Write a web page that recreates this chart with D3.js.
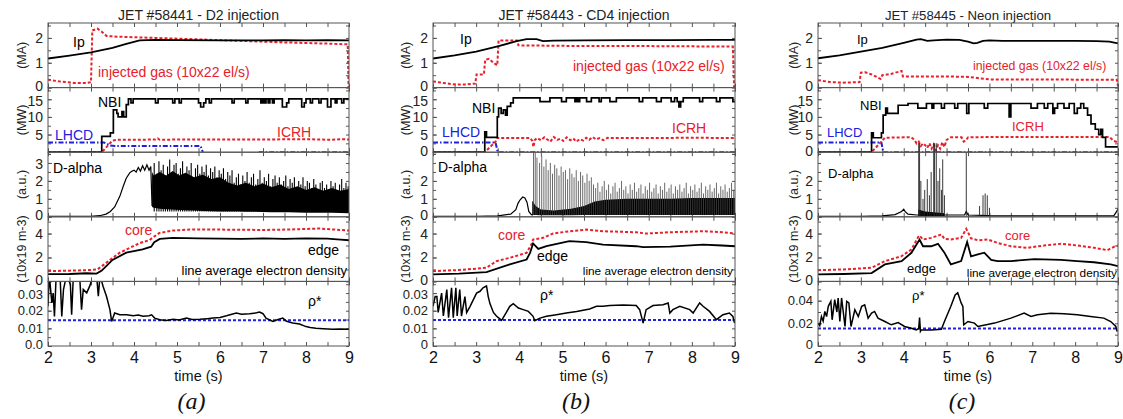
<!DOCTYPE html>
<html><head><meta charset="utf-8">
<script src="https://cdn.jsdelivr.net/npm/d3@7"></script>
<style>
body{margin:0;background:#fff;}
svg{display:block;font-family:Arial,"Liberation Sans",Helvetica,sans-serif;}
</style></head><body>
<svg id="chart" width="1123" height="419"></svg>
<script>
// ---------------- DATA ----------------
const timeTicks = [2,3,4,5,6,7,8,9];
const shotTitles = ["JET #58441 - D2 injection","JET #58443 - CD4 injection","JET #58445 - Neon injection"];
const panelLetters = ["(a)","(b)","(c)"];
const unitLabels = ["(MA)","(MW)","(a.u.)","(10x19 m-3)",""];
const maTicks = [0,1,2];
const mwTicksA = [5,10,15];
const mwTicksBC = [0,5,10,15];
const auTicksA = [0,1,2,3];
const auTicksBC = [0,1,2];
const neTicks = [0,2,4];
const rhoTicksAB = [0,0.01,0.02,0.03];
const rhoTicksC = [0,0.02,0.04];
const rhoLabelsA = ["0.0","0.01","0.02","0.03"];
const rhoLabelsB = ["0","0.01","0.02","0.03"];
const rhoLabelsC = ["0","0.02","0.04"];

// ---- shot (a) #58441 ----
const ipA = [[2,1.17],[2.5,1.29],[3,1.42],[3.5,1.6],[3.8,1.75],[4.13,1.9],[4.5,1.92],[5,1.91],[6,1.9],[7,1.9],[7.5,1.91],[8,1.9],[8.5,1.91],[9,1.9]];
const gasA = [[2,0.32],[2.3,0.24],[2.6,0.19],[2.9,0.19],[3.0,0.22],[3.03,2.3],[3.15,2.37],[3.25,2.25],[3.36,2.08],[3.6,2.05],[4.5,2.0],[5.5,1.94],[6.5,1.88],[7.5,1.82],[8.5,1.77],[8.97,1.74],[8.99,0]];
const nbiA = [[2,0],[3.25,4.5],[3.45,5.5],[3.52,12],[3.6,11],[3.63,10],[3.72,11.5],[3.76,10],[3.82,13.5],[3.87,15.1],[3.93,14],[3.98,15.1],[4.5,14],[4.56,15.1],[4.9,14],[4.95,15.1],[5.05,14],[5.1,15.1],[5.5,14],[5.55,12.8],[5.62,14],[5.67,15.1],[5.75,14],[5.8,15.1],[6.28,14],[6.33,15.1],[6.6,14],[6.65,15.1],[6.95,14],[6.99,15.1],[7.03,14],[7.07,15.1],[7.12,14],[7.16,15.1],[7.22,14],[7.26,15.1],[7.45,12.8],[7.55,14],[7.6,15.1],[7.9,12.8],[7.96,14],[8.0,15.1],[8.1,14],[8.15,15.1],[8.3,14],[8.35,15.1],[8.5,12.8],[8.58,15.1],[8.68,14],[8.72,15.1],[8.83,14],[8.88,15.1],[9,15.1]];
const icrhA = [[2,0],[3.25,0],[3.5,3.3],[3.6,3.5],[4.0,3.5],[4.5,3.6],[4.55,3.9],[4.6,3.5],[5,3.6],[6,3.6],[7,3.6],[8,3.7],[8.6,3.5],[8.8,3.7],[9,3.6]];
const lhcdA = [[2,2.75],[3.3,2.75],[3.45,1.9],[3.55,1.75],[5.55,1.75],[5.6,0],[5.65,null],[6.9,0],[9,0]];
const daBaseA = [[2,0.02],[2.5,0.02],[3.0,0.03],[3.2,0.06],[3.35,0.15],[3.45,0.3],[3.55,0.55],[3.67,1.14],[3.75,1.7],[3.82,2.15],[3.9,2.45],[3.94,2.52],[4.0,2.6],[4.05,2.5],[4.1,2.75],[4.15,2.55],[4.2,2.85],[4.25,2.6],[4.3,2.9],[4.35,2.6],[4.39,2.8],[4.42,0.6]];
const daBandA = [[4.42,0.55,2.5],[4.46,0.5,2.3],[4.6,0.45,2.5],[4.75,0.42,2.3],[4.9,0.4,2.55],[5.05,0.38,2.3],[5.2,0.36,2.45],[5.4,0.35,2.2],[5.6,0.32,2.35],[5.8,0.31,2.1],[6.0,0.3,2.2],[6.2,0.3,1.9],[6.4,0.29,1.75],[6.6,0.28,1.9],[6.8,0.28,1.7],[7.0,0.27,1.85],[7.2,0.26,1.65],[7.4,0.26,1.8],[7.6,0.25,1.55],[7.8,0.24,1.7],[8.0,0.23,1.5],[8.2,0.23,1.65],[8.4,0.22,1.45],[8.6,0.22,1.6],[8.8,0.21,1.45],[9.0,0.2,1.55]];
const daSpikesA = [[4.47,3.0],[4.53,2.4],[4.58,3.1],[4.63,2.6],[4.68,2.9],[4.73,2.2],[4.78,2.8],[4.83,3.2],[4.88,2.5],[4.93,2.9],[4.98,3.0],[5.03,2.4],[5.08,2.7],[5.13,3.1],[5.18,2.3],[5.23,2.8],[5.28,2.6],[5.33,3.0],[5.38,2.2],[5.43,2.7],[5.48,2.9],[5.53,2.4],[5.58,2.8],[5.63,2.5],[5.68,2.9],[5.73,2.3],[5.78,2.7],[5.83,2.5],[5.88,2.8],[5.93,2.2],[5.98,2.6],[6.03,2.4],[6.08,2.7],[6.13,2.1],[6.18,2.5],[6.23,2.3],[6.28,2.6],[6.33,1.9],[6.38,2.2],[6.43,2.4],[6.48,1.8],[6.53,2.3],[6.58,2.0],[6.63,2.5],[6.68,1.9],[6.73,2.2],[6.78,2.4],[6.83,1.8],[6.88,2.1],[6.93,2.6],[6.98,1.9],[7.03,2.2],[7.08,2.0],[7.13,2.4],[7.18,1.7],[7.23,2.1],[7.28,2.3],[7.33,1.9],[7.38,2.2],[7.43,1.8],[7.48,2.0],[7.53,2.3],[7.58,1.7],[7.63,2.1],[7.68,1.9],[7.73,2.2],[7.78,1.6],[7.83,2.0],[7.88,1.8],[7.93,2.2],[7.98,1.7],[8.03,2.0],[8.08,1.9],[8.13,1.6],[8.18,2.1],[8.23,1.8],[8.28,1.5],[8.33,1.9],[8.38,2.0],[8.43,1.6],[8.48,1.8],[8.53,1.5],[8.58,2.0],[8.63,1.7],[8.68,1.9],[8.73,1.5],[8.78,1.8],[8.83,2.1],[8.88,1.6],[8.93,1.9],[8.98,1.7]];
const coreA = [[2,0.86],[2.5,0.9],[3.0,0.95],[3.15,1.0],[3.3,1.4],[3.5,1.95],[3.67,2.4],[3.9,2.8],[4.13,3.2],[4.36,3.45],[4.45,3.7],[4.59,4.05],[4.9,4.25],[5.3,4.33],[6,4.33],[7,4.3],[7.5,4.33],[8,4.38],[8.3,4.42],[8.6,4.35],[9,4.25]];
const edgeA = [[2,0.6],[2.5,0.62],[2.9,0.68],[3.13,0.65],[3.25,0.9],[3.5,1.8],[3.82,2.4],[4.2,2.67],[4.4,2.9],[4.47,3.28],[4.6,3.55],[4.9,3.64],[5.5,3.6],[6,3.58],[6.5,3.55],[7,3.6],[7.5,3.55],[8,3.6],[8.5,3.58],[8.8,3.5],[9,3.44]];
const rhoA = [[2.0,0.0225],[2.03,0.04],[2.09,0.0244],[2.12,0.03],[2.15,0.0168],[2.19,0.04],[2.28,0.04],[2.32,0.0168],[2.36,0.032],[2.43,0.04],[2.52,0.035],[2.55,0.0177],[2.59,0.04],[2.74,0.038],[2.78,0.0206],[2.82,0.032],[2.9,0.0301],[2.97,0.0339],[3.05,0.04],[3.13,0.04],[3.17,0.0282],[3.21,0.04],[3.28,0.0339],[3.36,0.0282],[3.44,0.0206],[3.48,0.0139],[3.55,0.0187],[3.67,0.0177],[3.83,0.0177],[3.98,0.0171],[4.1,0.0175],[4.21,0.0168],[4.35,0.0172],[4.41,0.0177],[4.48,0.0158],[4.6,0.0149],[4.75,0.0145],[4.91,0.0152],[5.05,0.0148],[5.22,0.0158],[5.35,0.015],[5.53,0.0152],[5.7,0.0155],[5.84,0.0158],[6.0,0.0162],[6.15,0.0171],[6.38,0.0187],[6.5,0.018],[6.69,0.0183],[6.85,0.0188],[6.92,0.0192],[7.0,0.0183],[7.07,0.0158],[7.23,0.0139],[7.35,0.015],[7.46,0.0158],[7.55,0.014],[7.69,0.013],[7.85,0.0125],[8.0,0.011],[8.1,0.0105],[8.23,0.0101],[8.4,0.0098],[8.62,0.0095],[8.8,0.0097],[9.0,0.0095]];
const rhoRefA = 0.0146;

// ---- shot (b) #58443 ----
const ipB = [[2,1.17],[2.5,1.3],[3,1.45],[3.52,1.67],[3.94,1.87],[4.17,1.95],[4.4,1.95],[4.55,1.87],[4.8,1.89],[5.5,1.9],[6.5,1.91],[7.5,1.91],[8.5,1.92],[9,1.92]];
const gasB = [[2,0.25],[2.3,0.17],[2.55,0.12],[2.8,0.13],[2.98,0.16],[3.01,0.53],[3.18,0.53],[3.21,1.12],[3.3,1.16],[3.4,1.0],[3.49,0.9],[3.52,1.9],[3.95,1.9],[3.98,1.7],[5,1.68],[6,1.67],[7,1.67],[8,1.66],[8.95,1.65],[8.98,0]];
const nbiB = [[2,0],[3.2,5.8],[3.24,4.2],[3.49,10],[3.52,12.5],[3.58,11],[3.63,12],[3.68,10.5],[3.72,13],[3.8,14],[3.86,15.4],[4.48,14.3],[4.71,15.4],[4.98,14.3],[5.09,15.4],[5.29,14.3],[5.32,15.4],[5.36,14.3],[5.4,15.4],[5.56,14.3],[5.67,15.4],[5.85,14.3],[5.9,15.4],[6.1,14.3],[6.25,15.4],[6.78,14.3],[6.86,15.4],[7.18,14.3],[7.29,15.4],[7.52,14.3],[7.6,15.4],[7.66,14.3],[7.7,12.8],[7.74,14.3],[7.8,15.4],[8.18,14.3],[8.25,15.4],[8.57,14.3],[8.65,15.4],[8.95,14.3],[9,14.3]];
const icrhB = [[2,0],[3.2,0],[3.45,3.0],[3.48,4.0],[4.26,4.0],[4.3,3.2],[4.33,1.5],[4.36,3.5],[4.42,4.0],[4.5,3.4],[4.58,4.2],[4.65,3.6],[4.72,3.0],[4.8,4.3],[4.88,3.5],[4.95,3.8],[5.02,3.2],[5.1,4.2],[5.18,3.4],[5.25,3.9],[5.32,3.0],[5.4,3.7],[5.48,3.3],[5.55,4.1],[5.62,3.5],[5.7,4.3],[5.78,3.6],[5.86,4.0],[5.95,3.4],[6.05,4.1],[6.1,4.0],[7,4.0],[8,4.1],[9,4.0]];
const lhcdB = [[2,2.75],[3.45,2.75],[3.5,0],[9,0]];
const daBaseB = [[2,0.02],[3,0.03],[3.5,0.05],[3.8,0.15],[3.92,0.4],[3.97,0.75],[4.02,0.95],[4.08,1.1],[4.13,1.05],[4.18,0.8],[4.22,0.3],[4.28,0.12],[4.32,0.1]];
const daBandB = [[4.3,0.1,0.9],[4.38,0.1,0.6],[4.5,0.08,0.4],[4.8,0.08,0.35],[5.2,0.08,0.45],[5.5,0.1,0.6],[5.75,0.1,0.85],[6.0,0.1,0.95],[6.5,0.1,1.0],[7.0,0.1,1.0],[7.5,0.1,1.0],[8.0,0.1,1.05],[8.5,0.1,1.05],[9.0,0.1,1.05]];
const daSpikesB = [[4.33,3.6],[4.37,3.6],[4.41,3.3],[4.47,3.0],[4.52,3.4],[4.57,2.8],[4.62,3.2],[4.67,2.6],[4.72,3.0],[4.77,2.4],[4.82,2.9],[4.87,2.7],[4.92,2.3],[4.97,2.8],[5.02,2.5],[5.07,2.6],[5.12,2.1],[5.17,2.7],[5.22,2.4],[5.27,2.2],[5.32,2.6],[5.37,2.0],[5.42,2.5],[5.47,2.3],[5.52,1.9],[5.57,2.4],[5.62,2.0],[5.67,2.2],[5.72,1.8],[5.77,1.6],[5.82,1.9],[5.87,1.4],[5.92,1.7],[5.97,2.0],[6.02,1.5],[6.07,1.8],[6.12,1.3],[6.17,1.7],[6.22,1.9],[6.27,1.4],[6.32,1.6],[6.37,2.0],[6.42,1.5],[6.47,1.7],[6.52,1.3],[6.57,1.8],[6.62,1.5],[6.67,1.9],[6.72,1.4],[6.77,1.6],[6.82,1.8],[6.87,1.3],[6.92,1.7],[6.97,1.5],[7.02,1.9],[7.07,1.4],[7.12,1.6],[7.17,1.8],[7.22,1.3],[7.27,1.7],[7.32,1.5],[7.37,1.9],[7.42,1.4],[7.47,1.6],[7.52,1.8],[7.57,1.3],[7.62,1.7],[7.67,1.5],[7.72,1.8],[7.77,1.4],[7.82,1.6],[7.87,1.9],[7.92,1.3],[7.97,1.7],[8.02,1.5],[8.07,1.8],[8.12,1.4],[8.17,1.6],[8.22,1.9],[8.27,1.3],[8.32,1.7],[8.37,1.5],[8.42,1.8],[8.47,1.4],[8.52,1.6],[8.57,1.9],[8.62,1.3],[8.67,1.7],[8.72,1.5],[8.77,1.8],[8.82,1.4],[8.87,1.6],[8.92,1.9],[8.97,1.5]];
const coreB = [[2,0.86],[2.6,0.95],[3.24,1.14],[3.47,1.69],[3.78,1.97],[4.17,2.39],[4.28,3.08],[4.32,3.5],[4.55,3.64],[4.78,4.0],[5.16,4.19],[5.55,4.33],[5.94,4.19],[6.71,4.11],[6.94,4.0],[7.5,4.11],[8.26,4.19],[8.7,4.11],[9,4.0]];
const edgeB = [[2,0.58],[2.6,0.65],[3.24,0.78],[3.78,1.42],[4.17,1.83],[4.25,2.39],[4.32,3.17],[4.44,2.72],[4.63,2.94],[5.16,3.36],[5.55,3.28],[5.94,3.08],[6.71,2.94],[6.87,2.86],[7.5,2.9],[8.26,3.08],[8.7,3.0],[9,2.94]];
const rhoB = [[2.0,0.0225],[2.05,0.028],[2.09,0.028],[2.12,0.019],[2.2,0.03],[2.24,0.017],[2.32,0.032],[2.36,0.016],[2.43,0.033],[2.47,0.016],[2.53,0.033],[2.56,0.017],[2.62,0.032],[2.66,0.017],[2.74,0.028],[2.78,0.019],[2.86,0.0225],[2.93,0.026],[3.01,0.03],[3.09,0.031],[3.16,0.033],[3.24,0.034],[3.28,0.028],[3.32,0.024],[3.4,0.019],[3.47,0.017],[3.59,0.0145],[3.7,0.019],[3.78,0.0225],[3.86,0.024],[3.98,0.0215],[4.09,0.0206],[4.21,0.0196],[4.32,0.0168],[4.36,0.0143],[4.48,0.0158],[4.63,0.0168],[4.86,0.0177],[5.09,0.0187],[5.33,0.0196],[5.63,0.021],[5.79,0.0225],[5.94,0.0225],[6.1,0.0229],[6.41,0.0232],[6.71,0.0229],[6.79,0.0206],[6.87,0.013],[6.94,0.0206],[7.1,0.0229],[7.33,0.0234],[7.45,0.0244],[7.49,0.0187],[7.56,0.0206],[7.72,0.0225],[7.95,0.0206],[8.03,0.0187],[8.18,0.0244],[8.26,0.0225],[8.41,0.0196],[8.57,0.0149],[8.72,0.0177],[8.87,0.0187],[8.95,0.0168],[8.99,0.013]];
const rhoRefB = 0.0148;

// ---- shot (c) #58445 ----
const ipC = [[2,1.18],[2.5,1.3],[3,1.45],[3.5,1.6],[4,1.8],[4.3,1.93],[4.4,1.95],[4.55,1.88],[4.7,1.9],[5.0,1.93],[5.3,1.92],[5.5,1.85],[5.63,1.78],[5.72,1.8],[5.85,1.88],[6.0,1.9],[6.3,1.88],[7,1.88],[8,1.88],[8.5,1.87],[8.8,1.85],[9,1.78]];
const gasC = [[2,0.3],[2.3,0.22],[2.6,0.2],[2.97,0.22],[3.0,0.6],[3.1,0.62],[3.25,0.53],[3.46,0.35],[3.5,0.5],[3.7,0.55],[3.95,0.67],[3.98,0.45],[4.5,0.45],[5.0,0.45],[5.5,0.43],[5.8,0.37],[6.0,0.33],[7,0.33],[8,0.32],[8.97,0.32],[9,0.05]];
const nbiC = [[2,0],[3.25,5.5],[3.29,4.1],[3.48,5.5],[3.52,10.5],[3.58,12.5],[3.62,11],[3.87,13.3],[4.1,13.8],[4.33,12.5],[4.53,13.8],[4.66,12.5],[4.7,13.8],[4.88,12.5],[4.95,13.8],[5.19,12.5],[5.26,13.8],[5.47,11],[5.52,13.8],[5.88,12.5],[5.96,13.8],[6.46,10],[6.5,13.8],[6.97,12.5],[7.12,13.8],[7.28,12.5],[7.36,13.8],[7.48,11],[7.52,12.5],[7.59,13.8],[7.74,12.5],[7.86,13.8],[7.98,11],[8.05,12.5],[8.13,13.8],[8.2,12.5],[8.29,10.5],[8.37,8],[8.47,6.5],[8.55,5],[8.6,6.5],[8.64,4.2],[8.71,1.5],[9,1.5]];
const icrhC = [[2,0],[3.25,0],[3.56,4.1],[4.0,4.2],[4.18,4.2],[4.25,3.5],[4.3,2.5],[4.35,3.0],[4.4,1.8],[4.45,2.5],[4.5,2.0],[4.55,1.2],[4.6,2.5],[4.65,1.0],[4.7,2.2],[4.75,0.5],[4.8,2.0],[4.85,1.0],[4.9,2.8],[4.95,1.5],[5.0,3.5],[5.1,4.2],[5.35,4.2],[5.4,3.0],[5.45,3.3],[5.5,4.2],[6,4.3],[7,4.3],[8,4.3],[8.8,4.3],[8.9,3.2],[9,2.8]];
const lhcdC = [[2,2.75],[3.48,2.75],[3.52,0],[9,0]];
const daBaseC = [[2,0.02],[3,0.03],[3.5,0.05],[3.8,0.12],[3.95,0.3],[4.0,0.42],[4.03,0.3],[4.1,0.15],[4.3,0.1],[5.0,0.1],[5.42,0.1],[5.46,0.3],[5.5,0.1],[6,0.06],[7,0.05],[8,0.05],[8.9,0.05],[8.97,0.3],[9,0.45]];
const daBandC = [[4.34,0.05,0.4],[4.5,0.05,0.3],[4.7,0.05,0.25],[4.95,0.05,0.2]];
const daSpikesC = [[4.35,4.1],[4.37,4.1],[4.4,2.0],[4.45,1.0],[4.49,1.5],[4.55,2.1],[4.6,1.2],[4.64,2.5],[4.7,4.1],[4.72,4.1],[4.76,4.1],[4.8,2.0],[4.84,2.7],[4.88,1.5],[4.91,3.2],[4.95,1.2],[5.46,3.6],[5.77,0.6],[5.85,1.2],[5.9,1.3],[5.95,1.2],[6.0,0.5]];
const coreC = [[2,0.94],[2.6,1.0],[3.25,1.14],[3.56,1.69],[3.95,2.11],[4.18,2.67],[4.34,3.72],[4.37,3.83],[4.45,3.5],[4.64,3.64],[4.88,3.92],[4.95,3.56],[5.1,3.5],[5.34,3.64],[5.46,4.39],[5.57,3.6],[5.73,3.44],[5.96,3.5],[6.19,3.22],[6.5,2.94],[6.89,2.81],[7.28,3.0],[7.67,3.14],[8.05,3.0],[8.44,2.81],[8.75,2.61],[8.91,2.9],[9,3.0]];
const edgeC = [[2,0.58],[2.6,0.62],[3.25,0.7],[3.56,1.42],[3.95,1.69],[4.18,2.39],[4.37,3.5],[4.45,2.94],[4.64,2.94],[4.8,3.14],[4.95,2.4],[5.1,1.42],[5.34,1.7],[5.48,3.3],[5.57,2.1],[5.73,2.25],[5.88,2.4],[6.04,1.8],[6.19,1.7],[6.5,1.7],[7.05,1.86],[7.67,1.8],[8.05,1.7],[8.44,1.6],[8.83,1.42],[9,1.28]];
const rhoC = [[2.0,0.0202],[2.04,0.018],[2.08,0.026],[2.12,0.022],[2.16,0.0305],[2.2,0.026],[2.24,0.035],[2.3,0.0394],[2.33,0.0231],[2.39,0.0409],[2.44,0.03],[2.47,0.0424],[2.51,0.0216],[2.55,0.0424],[2.59,0.03],[2.63,0.0172],[2.67,0.0394],[2.72,0.038],[2.77,0.0172],[2.86,0.032],[2.94,0.026],[3.02,0.035],[3.09,0.0364],[3.17,0.0246],[3.25,0.029],[3.32,0.0305],[3.4,0.0246],[3.56,0.0216],[3.71,0.0187],[3.87,0.0207],[4.02,0.0172],[4.18,0.0157],[4.29,0.0142],[4.35,0.0155],[4.37,0.025],[4.39,0.013],[4.41,0.0142],[4.64,0.0142],[4.88,0.0148],[4.95,0.0216],[5.1,0.035],[5.2,0.045],[5.26,0.047],[5.34,0.038],[5.38,0.035],[5.4,0.0187],[5.5,0.0216],[5.65,0.0202],[5.73,0.0172],[6.12,0.0202],[6.5,0.0246],[6.81,0.029],[6.97,0.026],[7.12,0.0276],[7.43,0.029],[7.74,0.0284],[8.05,0.0276],[8.36,0.026],[8.67,0.0246],[8.83,0.0216],[8.95,0.0172],[8.98,0.0127]];
const rhoRefC = 0.0155;

// ---------------- LAYOUT / STYLE ----------------
const RED = "#e8202a", BLUE = "#2020e0", GRID = "#555";
const rowTops = [23, 87.6, 152.2, 216.8, 281.4];
const rowH = 64.6;
const rowDomains = [[0,2.6],[0,18.3],[0,3.6],[0,5.4]];
const rhoDomains = [[0,0.0366],[0,0.0366],[0,0.057]];
const minorSteps = [0.5, 2.5, 0.5, 1, null];

const shots = [
  {ip:ipA,gas:gasA,nbi:nbiA,icrh:icrhA,lhcd:lhcdA,daBase:daBaseA,daBand:daBandA,daSpikes:daSpikesA,spikeFloor:0.3,spikeColor:"#000",spikeW:1.1,core:coreA,edge:edgeA,rho:rhoA,rhoRef:rhoRefA,
   mwTicks:mwTicksA,auTicks:auTicksA,rhoTicks:rhoTicksAB,rhoLabels:rhoLabelsA,rhoMinor:0.005},
  {ip:ipB,gas:gasB,nbi:nbiB,icrh:icrhB,lhcd:lhcdB,daBase:daBaseB,daBand:daBandB,daSpikes:daSpikesB,spikeFloor:0.1,spikeColor:"#444",spikeW:0.8,core:coreB,edge:edgeB,rho:rhoB,rhoRef:rhoRefB,
   mwTicks:mwTicksBC,auTicks:auTicksBC,rhoTicks:rhoTicksAB,rhoLabels:rhoLabelsB,rhoMinor:0.005},
  {ip:ipC,gas:gasC,nbi:nbiC,icrh:icrhC,lhcd:lhcdC,daBase:daBaseC,daBand:daBandC,daSpikes:daSpikesC,spikeFloor:0.05,spikeColor:"#222",spikeW:0.9,core:coreC,edge:edgeC,rho:rhoC,rhoRef:rhoRefC,
   mwTicks:mwTicksBC,auTicks:auTicksBC,rhoTicks:rhoTicksC,rhoLabels:rhoLabelsC,rhoMinor:0.01}
];

const columns = [
  {left:48, right:349, unitX:22, letterDx:-7, fs:14, gasFs:14, ladFs:13,
   labels:{ip:[73,47],gas:[98,77],nbi:[98,107],lhcd:[55,140],icrh:[277,137],da:[53,173],core:[125,235],edge:[308,255],lad:[347,275],rho:[308,306]}},
  {left:433, right:735, unitX:406, letterDx:-8, fs:14, gasFs:14, ladFs:11.8,
   labels:{ip:[460,44],gas:[573,71],nbi:[472,113],lhcd:[442,137],icrh:[672,133],da:[438,172],core:[498,240],edge:[537,261],lad:[733,275],rho:[540,300]}},
  {left:818, right:1118, unitX:794, letterDx:-6, fs:13, gasFs:12.3, ladFs:11.8,
   labels:{ip:[857,44],gas:[973,70],nbi:[860,110],lhcd:[827,137],icrh:[1012,131],da:[828,178],core:[1005,240],edge:[907,273],lad:[1117,277],rho:[912,300]}}
];

// ---------------- DRAW ----------------
const svg = d3.select("#chart");
const defs = svg.append("defs");

function range(a, b, s) { const out=[]; for (let v=a; v<=b+1e-9; v+=s) out.push(+v.toFixed(6)); return out; }

columns.forEach((c, ci) => {
  const s = shots[ci];
  const x = d3.scaleLinear().domain([2,9]).range([c.left, c.right]);
  const g = svg.append("g");

  g.append("text").attr("x",(c.left+c.right)/2).attr("y",19.5).attr("text-anchor","middle")
    .attr("font-size", ci===2?13.2:14).attr("fill","#222").text(shotTitles[ci]);

  for (let ri=0; ri<5; ri++) {
    const top = rowTops[ri], bot = top + rowH;
    const dom = ri<4 ? rowDomains[ri] : rhoDomains[ci];
    const y = d3.scaleLinear().domain(dom).range([bot, top]);
    const clipId = `clip${ci}_${ri}`;
    defs.append("clipPath").attr("id",clipId).append("rect")
      .attr("x",c.left).attr("y",top).attr("width",c.right-c.left).attr("height",rowH);

    let major, labels;
    if (ri===0) major = maTicks;
    else if (ri===1) major = s.mwTicks;
    else if (ri===2) major = s.auTicks;
    else if (ri===3) major = neTicks;
    else { major = s.rhoTicks; labels = s.rhoLabels; }
    const minorStep = ri<4 ? minorSteps[ri] : s.rhoMinor;
    const minor = range(dom[0], dom[1], minorStep);

    const axL = d3.axisLeft(y).tickValues(major).tickSizeInner(-4).tickSizeOuter(0).tickPadding(5)
      .tickFormat((d,i)=> labels ? labels[i] : d3.format("d")(d));
    const gl = g.append("g").attr("transform",`translate(${c.left},0)`).call(axL);
    gl.select(".domain").remove();
    gl.selectAll("line").attr("stroke",GRID);
    gl.selectAll("text").attr("font-size", ri===4?13:14).attr("fill","#222")
      .attr("font-family","Arial, 'Liberation Sans', sans-serif")
      .attr("dy", d => d===dom[0] ? "0.2em" : (y(d)-top < 14 ? "0.42em" : "0.32em"));
    const gmL = g.append("g").attr("transform",`translate(${c.left},0)`)
      .call(d3.axisLeft(y).tickValues(minor).tickSizeInner(-3).tickSizeOuter(0).tickFormat(""));
    gmL.select(".domain").remove(); gmL.selectAll("line").attr("stroke",GRID);
    const gmR = g.append("g").attr("transform",`translate(${c.right},0)`)
      .call(d3.axisRight(y).tickValues(minor).tickSizeInner(-3).tickSizeOuter(0).tickFormat(""));
    gmR.select(".domain").remove(); gmR.selectAll("line").attr("stroke",GRID);

    const xt = range(2, 9, 0.5);
    const gb = g.append("g").attr("transform",`translate(0,${bot})`)
      .call(d3.axisBottom(x).tickValues(xt).tickSizeInner(-4).tickSizeOuter(0).tickFormat(""));
    gb.select(".domain").remove(); gb.selectAll("line").attr("stroke",GRID);
    const gt = g.append("g").attr("transform",`translate(0,${top})`)
      .call(d3.axisTop(x).tickValues(xt).tickSizeInner(-4).tickSizeOuter(0).tickFormat(""));
    gt.select(".domain").remove(); gt.selectAll("line").attr("stroke",GRID);

    if (unitLabels[ri]) {
      g.append("text").attr("transform",`translate(${c.unitX},${top+rowH/2}) rotate(-90)`)
        .attr("text-anchor","middle").attr("dy","0.35em").attr("font-size",12.5).attr("fill","#222")
        .text(unitLabels[ri]);
    }

    const pg = g.append("g").attr("clip-path",`url(#${clipId})`);
    const line = d3.line().defined(d=>d[1]!==null).x(d=>x(d[0])).y(d=>y(d[1]));
    const stepLine = d3.line().curve(d3.curveStepAfter).x(d=>x(d[0])).y(d=>y(d[1]));

    if (ri===0) {
      pg.append("path").datum(s.gas).attr("d",line).attr("fill","none").attr("stroke",RED).attr("stroke-width",2).attr("stroke-dasharray","3,2");
      pg.append("path").datum(s.ip).attr("d",line).attr("fill","none").attr("stroke","#000").attr("stroke-width",1.8);
    } else if (ri===1) {
      pg.append("path").datum(s.lhcd).attr("d",line).attr("fill","none").attr("stroke",BLUE).attr("stroke-width",2).attr("stroke-dasharray","5,2,1.5,2");
      pg.append("path").datum(s.icrh).attr("d",line).attr("fill","none").attr("stroke",RED).attr("stroke-width",2).attr("stroke-dasharray","3,2");
      pg.append("path").datum(s.nbi).attr("d",stepLine).attr("fill","none").attr("stroke","#000").attr("stroke-width",1.7);
    } else if (ri===2) {
      const area = d3.area().x(d=>x(d[0])).y0(d=>y(d[1])).y1(d=>y(d[2]));
      pg.append("path").datum(s.daBand).attr("d",area).attr("fill","#000");
      const spikeLayer = ci===2 ? g : pg;
      spikeLayer.append("g").selectAll("line").data(s.daSpikes).join("line")
        .attr("x1",d=>x(d[0])).attr("x2",d=>x(d[0]))
        .attr("y1",y(s.spikeFloor)).attr("y2",d=>y(d[1]))
        .attr("stroke",s.spikeColor).attr("stroke-width",s.spikeW);
      pg.append("path").datum(s.daBase).attr("d",line).attr("fill","none").attr("stroke","#000").attr("stroke-width",1.2);
    } else if (ri===3) {
      pg.append("path").datum(s.core).attr("d",line).attr("fill","none").attr("stroke",RED).attr("stroke-width",2).attr("stroke-dasharray","3,2");
      pg.append("path").datum(s.edge).attr("d",line).attr("fill","none").attr("stroke","#000").attr("stroke-width",1.8);
    } else {
      pg.append("path").datum([[2,s.rhoRef],[9,s.rhoRef]]).attr("d",line).attr("fill","none").attr("stroke",BLUE).attr("stroke-width",2).attr("stroke-dasharray","3,2");
      pg.append("path").datum(s.rho).attr("d",line).attr("fill","none").attr("stroke","#000").attr("stroke-width",1.5);
    }

    g.append("rect").attr("x",c.left).attr("y",top).attr("width",c.right-c.left).attr("height",rowH)
      .attr("fill","none").attr("stroke",GRID).attr("stroke-width",1);
  }

  const L = c.labels;
  const lab = (p, t, col, fs, anchor) => g.append("text").attr("x",p[0]).attr("y",p[1])
    .attr("font-size",fs).attr("fill",col).attr("text-anchor",anchor||"start").text(t);
  lab(L.ip,"Ip","#000",c.fs);
  lab(L.gas,"injected gas (10x22 el/s)",RED,c.gasFs);
  lab(L.nbi,"NBI","#000",c.fs);
  lab(L.lhcd,"LHCD",BLUE,c.fs);
  lab(L.icrh,"ICRH",RED,c.fs);
  lab(L.da,"D-alpha","#000",c.fs);
  lab(L.core,"core",RED,c.fs);
  lab(L.edge,"edge","#000",c.fs);
  lab(L.lad,"line average electron density","#000",c.ladFs,"end");
  lab(L.rho,"ρ*","#000",c.fs);

  const ax = d3.axisBottom(x).tickValues(timeTicks).tickSize(0).tickPadding(6).tickFormat(d3.format("d"));
  const ga = g.append("g").attr("transform",`translate(0,${rowTops[4]+rowH})`).call(ax);
  ga.select(".domain").remove();
  ga.selectAll("text").attr("font-size",16).attr("fill","#111");
  g.append("text").attr("x",(c.left+c.right)/2).attr("y",381).attr("text-anchor","middle")
    .attr("font-size",14.5).attr("fill","#111").text("time (s)");
  g.append("text").attr("x",(c.left+c.right)/2 + c.letterDx).attr("y",409).attr("text-anchor","middle")
    .attr("font-size",24).attr("font-style","italic").attr("font-family","'Liberation Serif','Times New Roman',serif")
    .attr("fill","#111").text(panelLetters[ci]);
});
</script>
</body></html>
